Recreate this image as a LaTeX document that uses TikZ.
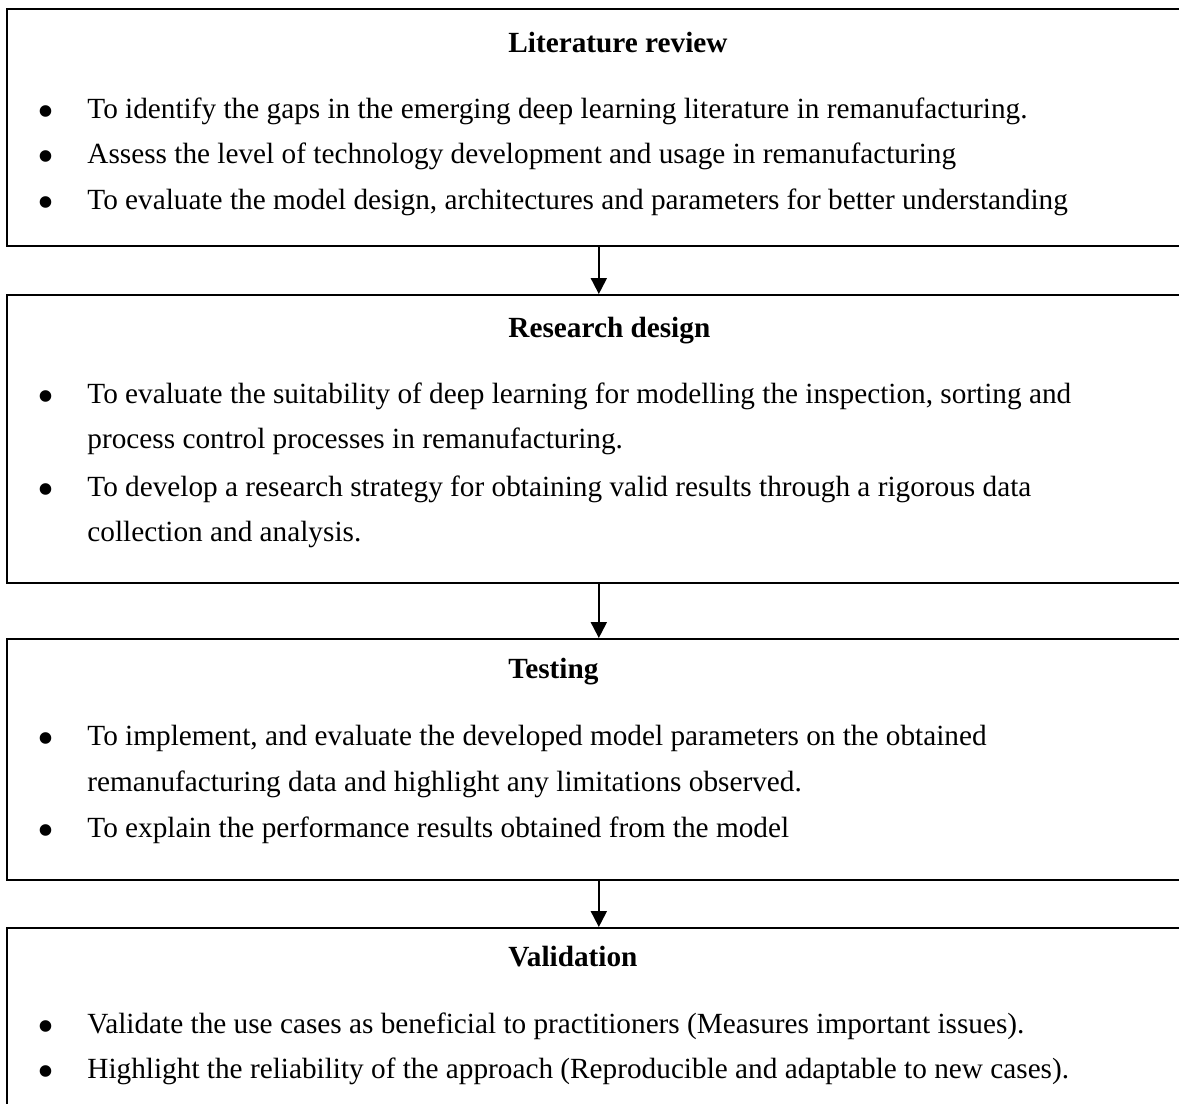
\documentclass[tikz,border=0pt]{standalone}
\usepackage{fontspec}
\setmainfont{Liberation Serif}
\usetikzlibrary{arrows.meta}
\def\px{0.4545pt}
\tikzset{
  x=0.4545pt, y=-0.4545pt,
  stage/.style={draw, line width=0.75pt, anchor=north west, inner sep=0pt,
                minimum width=1184*\px},
  heading/.style={anchor=base west, inner sep=0pt, font=\fontsize{13.3pt}{16pt}\selectfont\bfseries},
  item/.style={anchor=base west, inner sep=0pt, font=\fontsize{13.3pt}{16pt}\selectfont},
  dot/.style={anchor=base, inner sep=0pt, yshift=-9*\px, font=\fontsize{22pt}{24pt}\selectfont},
  flow/.style={line width=0.9pt, -{Triangle[width=16*\px, length=16*\px]}}
}
\begin{document}
\begin{tikzpicture}
\useasboundingbox (0,0) rectangle (1179,1103);
\clip (0,0) rectangle (1179,1103);

% stage frames (they run past the right and bottom edges)
\node[stage, minimum height=237*\px] (s1) at (6,8) {};
\node[stage, minimum height=288*\px] (s2) at (6,294) {};
\node[stage, minimum height=241*\px] (s3) at (6,638) {};
\node[stage, minimum height=240*\px] (s4) at (6,927) {};

% connectors
\draw[flow] (s1.south) -- (s2.north);
\draw[flow] (s2.south) -- (s3.north);
\draw[flow] (s3.south) -- (s4.north);

% Literature review
\node[heading] (h1) at (508,52) {Literature review};
\node[dot] (b11) at (46,118) {•};
\node[item] (l11) at (87,118) {To identify the gaps in the emerging deep learning literature in remanufacturing.};
\node[dot] (b12) at (46,163) {•};
\node[item] (l12) at (87,163) {Assess the level of technology development and usage in remanufacturing};
\node[dot] (b13) at (46,209) {•};
\node[item] (l13) at (87,209) {To evaluate the model design, architectures and parameters for better understanding};

% Research design
\node[heading] (h2) at (508,337) {Research design};
\node[dot] (b21) at (46,403) {•};
\node[item] (l21) at (87,403) {To evaluate the suitability of deep learning for modelling the inspection, sorting and};
\node[item] (l22) at (87,448) {process control processes in remanufacturing.};
\node[dot] (b22) at (46,496) {•};
\node[item] (l23) at (87,496) {To develop a research strategy for obtaining valid results through a rigorous data};
\node[item] (l24) at (87,541) {collection and analysis.};

% Testing
\node[heading] (h3) at (508,678) {Testing};
\node[dot] (b31) at (46,745) {•};
\node[item] (l31) at (87,745) {To implement, and evaluate the developed model parameters on the obtained};
\node[item] (l32) at (87,791) {remanufacturing data and highlight any limitations observed.};
\node[dot] (b32) at (46,837) {•};
\node[item] (l33) at (87,837) {To explain the performance results obtained from the model};

% Validation
\node[heading] (h4) at (508,966) {Validation};
\node[dot] (b41) at (46,1033) {•};
\node[item] (l41) at (87,1033) {Validate the use cases as beneficial to practitioners (Measures important issues).};
\node[dot] (b42) at (46,1078) {•};
\node[item] (l42) at (87,1078) {Highlight the reliability of the approach (Reproducible and adaptable to new cases).};
\end{tikzpicture}
\end{document}
